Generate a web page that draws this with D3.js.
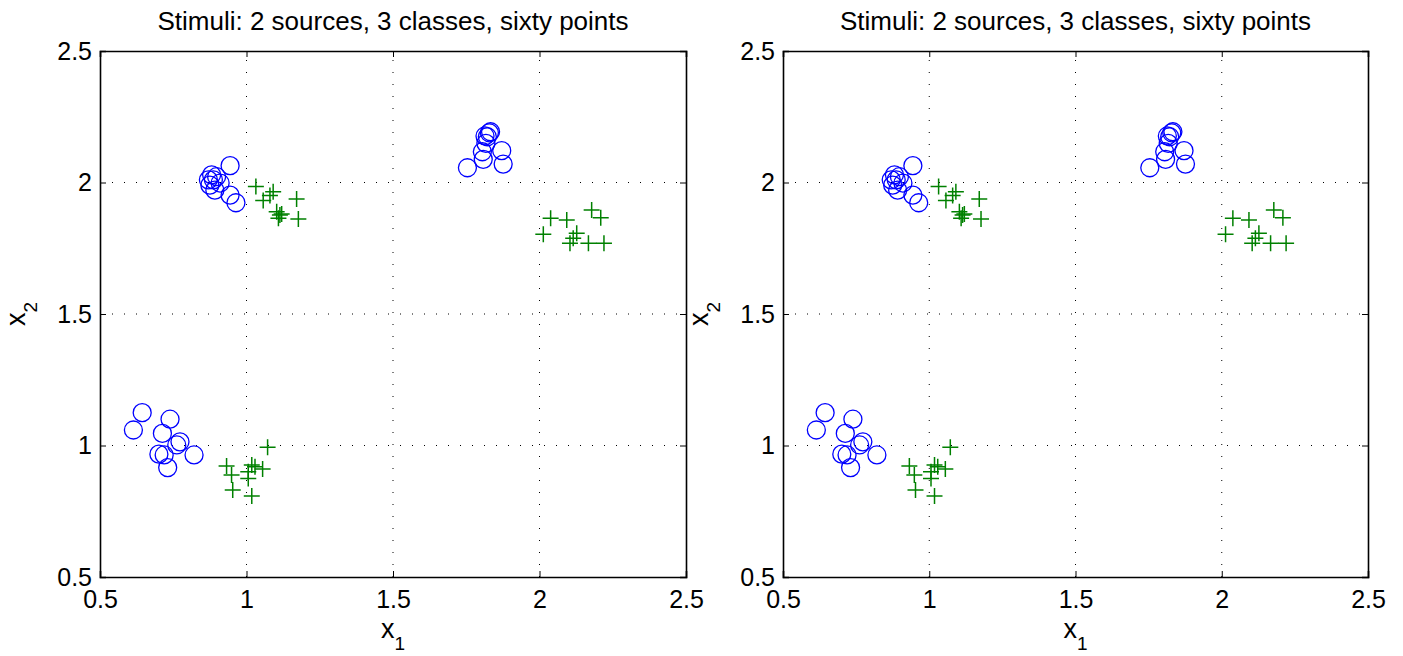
<!DOCTYPE html>
<html>
<head>
<meta charset="utf-8">
<script src="https://cdn.jsdelivr.net/npm/d3@7"></script>
<style>
  body { margin: 0; background: #fff; }
  text { font-family: "Liberation Sans", Arial, sans-serif; fill: #000; }
</style>
</head>
<body>
<div id="chart"></div>
<script>
var width = 1403, height = 656;

var titles = ["Stimuli: 2 sources, 3 classes, sixty points", "Stimuli: 2 sources, 3 classes, sixty points"];
var ticks = [0.5, 1, 1.5, 2, 2.5];

// circles (blue)
var circleX = [0.944, 0.964, 0.944, 0.875, 0.887, 0.898, 0.870, 0.892, 0.910, 0.881,
               0.644, 0.614, 0.739, 0.713, 0.773, 0.762, 0.701, 0.719, 0.731, 0.821,
               1.754, 1.808, 1.805, 1.817, 1.814, 1.829, 1.833, 1.871, 1.876, 1.822];
var circleY = [2.064, 1.923, 1.952, 1.990, 2.010, 2.022, 2.010, 1.971, 1.998, 2.029,
               1.125, 1.059, 1.100, 1.046, 1.014, 1.002, 0.967, 0.964, 0.916, 0.964,
               2.056, 2.088, 2.117, 2.149, 2.177, 2.189, 2.193, 2.121, 2.070, 2.174];
// pluses (green)
var plusX = [1.032, 1.057, 1.080, 1.091, 1.171, 1.103, 1.114, 1.109, 1.177, 1.120,
             1.072, 0.932, 0.949, 0.953, 1.018, 1.029, 1.006, 1.055, 1.006, 1.018,
             2.038, 2.093, 2.178, 2.209, 2.013, 2.127, 2.115, 2.104, 2.167, 2.220];
var plusY = [1.985, 1.932, 1.951, 1.965, 1.937, 1.889, 1.876, 1.864, 1.861, 1.880,
             0.993, 0.922, 0.888, 0.831, 0.926, 0.919, 0.900, 0.911, 0.875, 0.808,
             1.864, 1.857, 1.895, 1.866, 1.803, 1.807, 1.788, 1.769, 1.769, 1.769];

var circles = circleX.map(function(x, i) { return {x: x, y: circleY[i]}; });
var pluses = plusX.map(function(x, i) { return {x: x, y: plusY[i]}; });

var svg = d3.select("#chart").append("svg")
  .attr("width", width)
  .attr("height", height);

var panels = [
  {left: 100, right: 686, top: 51, bottom: 577, title: titles[0]},
  {left: 783, right: 1368, top: 51, bottom: 577, title: titles[1]}
];

panels.forEach(function(p) {
  var xScale = d3.scaleLinear().domain([0.5, 2.5]).range([p.left, p.right]);
  var yScale = d3.scaleLinear().domain([0.5, 2.5]).range([p.bottom, p.top]);
  var g = svg.append("g");

  // grid
  g.append("g").selectAll("line")
    .data(ticks.slice(1, -1))
    .enter().append("line")
      .attr("x1", function(d) { return xScale(d); })
      .attr("x2", function(d) { return xScale(d); })
      .attr("y1", p.bottom).attr("y2", p.top)
      .attr("stroke", "#000").attr("stroke-width", 1)
      .attr("stroke-dasharray", "1,11");
  g.append("g").selectAll("line")
    .data(ticks.slice(1, -1))
    .enter().append("line")
      .attr("y1", function(d) { return yScale(d); })
      .attr("y2", function(d) { return yScale(d); })
      .attr("x1", p.left).attr("x2", p.right)
      .attr("stroke", "#000").attr("stroke-width", 1)
      .attr("stroke-dasharray", "1,11");

  // axes (ticks inward)
  var xAxis = g.append("g")
    .attr("transform", `translate(0,${p.bottom})`)
    .call(d3.axisBottom(xScale).tickValues(ticks).tickSize(-6).tickPadding(13)
      .tickFormat(d3.format("")));
  var xTop = g.append("g")
    .attr("transform", `translate(0,${p.top})`)
    .call(d3.axisTop(xScale).tickValues(ticks).tickSize(-6).tickFormat(""));
  var yAxis = g.append("g")
    .attr("transform", `translate(${p.left},0)`)
    .call(d3.axisLeft(yScale).tickValues(ticks).tickSize(-6).tickPadding(8)
      .tickFormat(d3.format("")));
  var yRight = g.append("g")
    .attr("transform", `translate(${p.right},0)`)
    .call(d3.axisRight(yScale).tickValues(ticks).tickSize(-6).tickFormat(""));

  [xAxis, xTop, yAxis, yRight].forEach(function(a) {
    a.select(".domain").attr("stroke", "#000").attr("stroke-width", 1.6);
    a.selectAll(".tick line").attr("stroke", "#000");
    a.selectAll("text").style("font-size", "25px").attr("fill", "#000");
  });
  xAxis.selectAll("text").attr("dy", "0.71em");

  // marks
  g.append("g").selectAll("circle")
    .data(circles)
    .enter().append("circle")
      .attr("cx", function(d) { return xScale(d.x); })
      .attr("cy", function(d) { return yScale(d.y); })
      .attr("r", 9)
      .attr("fill", "none")
      .attr("stroke", "#0000ff")
      .attr("stroke-width", 1.3);

  g.append("g").selectAll("path")
    .data(pluses)
    .enter().append("path")
      .attr("d", function(d) {
        var cx = xScale(d.x), cy = yScale(d.y), s = 8;
        return `M${cx - s},${cy}H${cx + s}M${cx},${cy - s}V${cy + s}`;
      })
      .attr("fill", "none")
      .attr("stroke", "#008000")
      .attr("stroke-width", 1.5);

  // title
  g.append("text")
    .attr("x", (p.left + p.right) / 2)
    .attr("y", 30)
    .attr("text-anchor", "middle")
    .style("font-size", "26px")
    .text(p.title);

  // x label
  var xl = g.append("text")
    .attr("x", (p.left + p.right) / 2)
    .attr("y", 638)
    .attr("text-anchor", "middle")
    .style("font-size", "27px");
  xl.append("tspan").text("x");
  xl.append("tspan").attr("dy", 12).style("font-size", "19px").text("1");

  // y label
  var yl = g.append("text")
    .attr("transform", `translate(${p.left - 75},${(p.top + p.bottom) / 2}) rotate(-90)`)
    .attr("text-anchor", "middle")
    .style("font-size", "27px");
  yl.append("tspan").text("x");
  yl.append("tspan").attr("dy", 12).style("font-size", "19px").text("2");
});
</script>
</body>
</html>
